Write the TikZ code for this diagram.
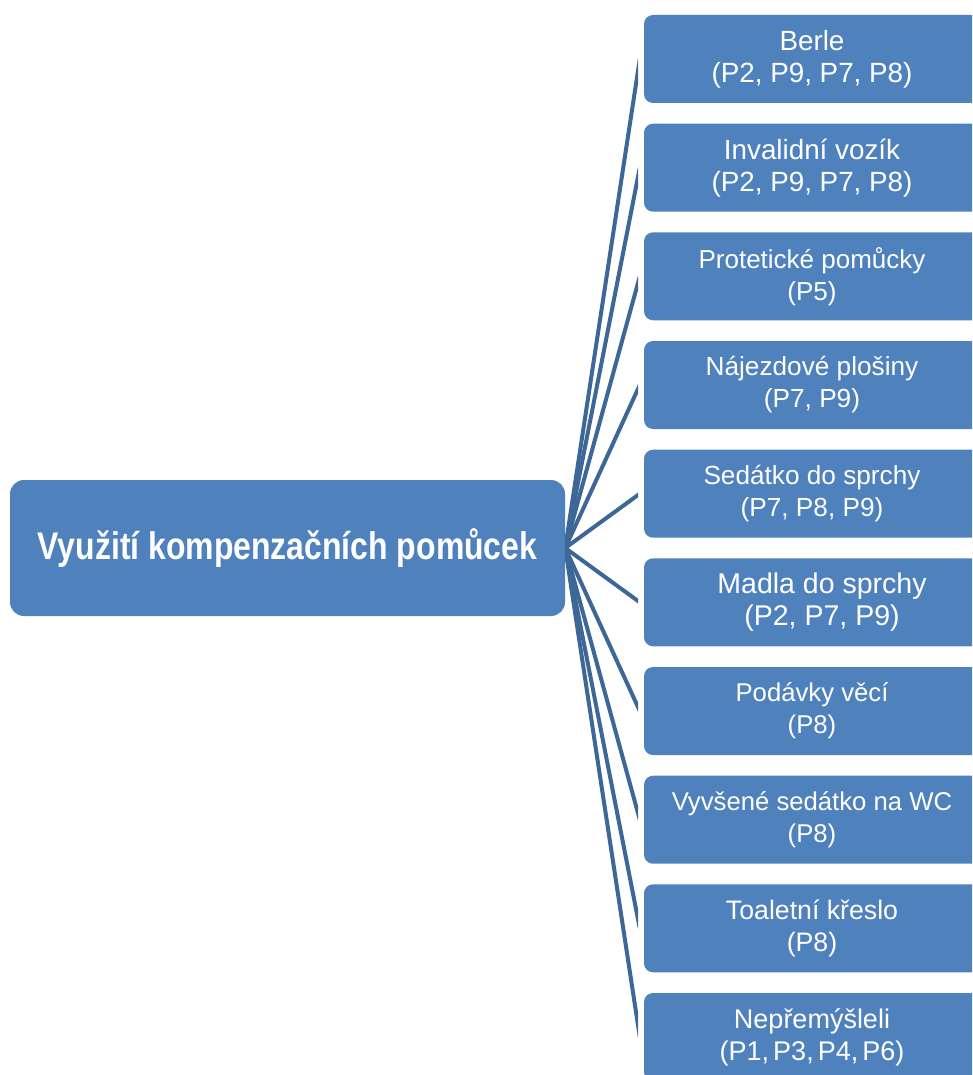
\documentclass[tikz,border=0pt]{standalone}
\usepackage{fontspec}
\setmainfont{Liberation Sans}
\newfontfamily\hubfont[FakeStretch=0.83]{Liberation Sans}
\definecolor{boxblue}{HTML}{4F81BD}
\definecolor{linkblue}{HTML}{3D6796}
\newcommand{\fs}[1]{\fontsize{#1}{32}\selectfont}

\begin{document}
\begin{tikzpicture}[x=1pt,y=-1pt,
  hubbox/.style={fill=boxblue, rounded corners=14pt, minimum width=555pt,
    minimum height=136pt, inner sep=0pt, text=white,
    font=\hubfont\bfseries\fontsize{38.5}{44}\selectfont},
  itembox/.style={fill=boxblue, rounded corners=9pt, minimum width=336pt,
    minimum height=88pt, inner sep=0pt, text=white, align=center,
    font=\fs{26}},
  link/.style={draw=linkblue, line width=4pt}]
\useasboundingbox (0,0) rectangle (972,1075);
\clip (0,0) rectangle (972,1075);

% central topic
\node[hubbox] (hub) at (287.5,548) {Využití kompenzačních pomůcek};

% list of aids, one box each
\node[itembox, font=\fs{27.8}] (b1)  at (812,59)     {Berle\\(P2, P9, P7, P8)};
\node[itembox, font=\fs{27.8}] (b2)  at (812,167.7)  {Invalidní vozík\\(P2, P9, P7, P8)};
\node[itembox, font=\fs{26}]   (b3)  at (812,276.3)  {Protetické pomůcky\\(P5)};
\node[itembox, font=\fs{26.2}] (b4)  at (812,385)    {Nájezdové plošiny\\(P7, P9)};
\node[itembox, font=\fs{26.2}] (b5)  at (812,493.7)  {Sedátko do sprchy\\(P7, P8, P9)};
\node[itembox, font=\fs{28.5}] (b6)  at (812,602.3)  {\hspace*{20pt}Madla do sprchy\\\hspace*{20pt}(P2, P7, P9)};
\node[itembox, font=\fs{25.7}] (b7)  at (812,711)    {Podávky věcí\\(P8)};
\node[itembox, font=\fs{25.7}] (b8)  at (812,819.7)  {Vyvšené sedátko na WC\\(P8)};
\node[itembox, font=\fs{26.7}] (b9)  at (812,928.3)  {Toaletní křeslo\\(P8)};
\node[itembox, font=\fs{27}]   (b10) at (812,1037)   {Nepřemýšleli\\(P1,\hspace{4pt}P3,\hspace{4pt}P4,\hspace{4pt}P6)};

% fan of connectors from the topic to each box
\begin{scope}
  \clip (565,0) rectangle (638,1075);
  \foreach \i in {1,...,10}
    \draw[link] (hub.east) -- ([xshift=-4pt]b\i.west);
\end{scope}
\end{tikzpicture}
\end{document}
